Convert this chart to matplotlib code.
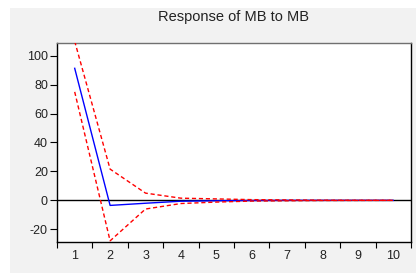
import matplotlib.pyplot as plt

periods = [1, 2, 3, 4, 5, 6, 7, 8, 9, 10]
response = [91.3, -3.5, -2.0, -0.6, -0.3, -0.1, 0.0, 0.0, 0.0, 0.0]
upper = [110.0, 21.6, 5.0, 1.5, 1.0, 0.5, 0.3, 0.1, 0.05, 0.0]
lower = [75.0, -28.0, -6.0, -2.2, -1.2, -0.5, -0.3, -0.1, -0.05, 0.0]
y_ticks = [-20, 0, 20, 40, 60, 80, 100]

fig = plt.figure(figsize=(4.17, 2.73), dpi=100)
fig.patch.set_facecolor('white')
# gray panel behind the plot, leaving a white strip top and left
fig.patches.append(plt.Rectangle((10 / 417, 0), 406 / 417, 1 - 8 / 273,
                                 transform=fig.transFigure,
                                 facecolor='#f2f2f2', edgecolor='none',
                                 zorder=-10))

ax = fig.add_axes([57 / 417, 1 - 242 / 273, 354 / 417, 199 / 273])
ax.set_facecolor('white')

ax.axhline(0, color='black', linewidth=1.0, zorder=1)
ax.plot(periods, response, color='#0000ff', linewidth=1.0, zorder=2)
ax.plot(periods, upper, color='#ff0000', linewidth=1.0,
        linestyle=(0, (3, 2)), zorder=3)
ax.plot(periods, lower, color='#ff0000', linewidth=1.0,
        linestyle=(0, (3, 2)), zorder=3)

ax.set_xlim(0.5, 10.5)
ax.set_ylim(-28.8, 108.8)
ax.set_yticks(y_ticks)
ax.set_yticklabels([str(v) for v in y_ticks], fontsize=9,
                   family='Liberation Sans', color='#222222')

# ticks on category boundaries, labels at category centres
ax.set_xticks([p + 0.5 for p in [0] + periods])
ax.set_xticklabels([])
ax.set_xticks(periods, minor=True)
ax.set_xticklabels([str(p) for p in periods], minor=True, fontsize=9,
                   family='Liberation Sans', color='#222222')
ax.tick_params(axis='x', which='minor', length=0, pad=6)
ax.tick_params(axis='x', which='major', length=4, direction='out')
ax.tick_params(axis='y', length=5, pad=1.5, direction='out')

for side in ['left', 'bottom', 'right']:
    ax.spines[side].set_color('black')
ax.spines['top'].set_color('#707070')
for sp in ax.spines.values():
    sp.set_linewidth(1.0)

fig.text(233 / 417, 1 - 17 / 273, 'Response of MB to MB', ha='center',
         va='center', fontsize=10.5, family='Liberation Sans',
         color='#222222')

fig.savefig('out.png', dpi=100)
